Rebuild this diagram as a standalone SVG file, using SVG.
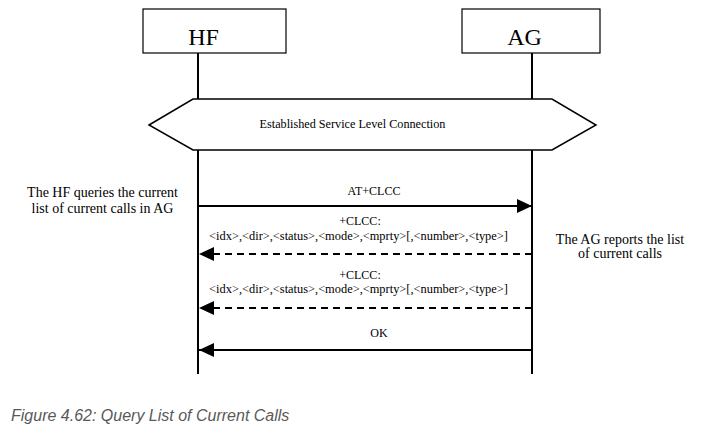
<svg xmlns="http://www.w3.org/2000/svg" width="705" height="442" viewBox="0 0 705 442">
<style>
.t{font-family:"Liberation Serif","Times New Roman",serif;fill:#000}
.box{fill:#fff;stroke:#000;stroke-width:1.2}
.life{stroke:#000;stroke-width:2;fill:none}
.msg{stroke:#000;stroke-width:2;fill:none}
.dash{stroke-dasharray:7 5}
.cap{font-family:"Liberation Sans",Arial,sans-serif;font-style:italic;font-size:16px;fill:#595959}
</style>
<defs>
<marker id="ah" viewBox="0 0 15 14" refX="15" refY="7" markerWidth="15" markerHeight="14" markerUnits="userSpaceOnUse" orient="auto">
<path d="M0,0 L15,7 L0,14 Z" fill="#000"/>
</marker>
</defs>
<rect width="705" height="442" fill="#fff"/>
<g id="lifelines">
<line class="life" x1="198" y1="53" x2="198" y2="374"/>
<line class="life" x1="532" y1="53" x2="532" y2="374"/>
</g>
<g id="HF">
<rect class="box" x="143" y="9" width="143" height="44"/>
<text class="t" x="203.5" y="45" font-size="24" text-anchor="middle">HF</text>
</g>
<g id="AG">
<rect class="box" x="462" y="9" width="138" height="44"/>
<text class="t" x="524.5" y="45" font-size="24" text-anchor="middle">AG</text>
</g>
<g id="slc">
<polygon points="149,125 193,99 552,99 596,125 552,150 193,150" fill="#fff" stroke="#000" stroke-width="1.5"/>
<text class="t" x="352.5" y="128" font-size="12.2" text-anchor="middle">Established Service Level Connection</text>
</g>
<g id="connectors">
<line class="msg" x1="198" y1="206" x2="532" y2="206" marker-end="url(#ah)"/>
<line class="msg dash" x1="532" y1="254" x2="199" y2="254" marker-end="url(#ah)"/>
<line class="msg dash" x1="532" y1="308" x2="199" y2="308" marker-end="url(#ah)"/>
<line class="msg" x1="532" y1="350" x2="199" y2="350" marker-end="url(#ah)"/>
</g>
<g id="labels">
<text class="t" x="374" y="195" font-size="12" text-anchor="middle">AT+CLCC</text>
<text class="t" x="360" y="225" font-size="12" text-anchor="middle">+CLCC:</text>
<text class="t" x="358.5" y="240" font-size="12.4" text-anchor="middle">&lt;idx&gt;,&lt;dir&gt;,&lt;status&gt;,&lt;mode&gt;,&lt;mprty&gt;[,&lt;number&gt;,&lt;type&gt;]</text>
<text class="t" x="360" y="279" font-size="12" text-anchor="middle">+CLCC:</text>
<text class="t" x="358.5" y="293" font-size="12.4" text-anchor="middle">&lt;idx&gt;,&lt;dir&gt;,&lt;status&gt;,&lt;mode&gt;,&lt;mprty&gt;[,&lt;number&gt;,&lt;type&gt;]</text>
<text class="t" x="379" y="337" font-size="12" text-anchor="middle">OK</text>
</g>
<g id="note-hf">
<text class="t" font-size="14" text-anchor="middle"><tspan x="102.5" y="197">The HF queries the current</tspan><tspan x="102.5" y="213">list of current calls in AG</tspan></text>
</g>
<g id="note-ag">
<text class="t" font-size="14" text-anchor="middle"><tspan x="620" y="244">The AG reports the list</tspan><tspan x="620" y="258">of current calls</tspan></text>
</g>
<text class="cap" x="11" y="421">Figure 4.62: Query List of Current Calls</text>
</svg>
